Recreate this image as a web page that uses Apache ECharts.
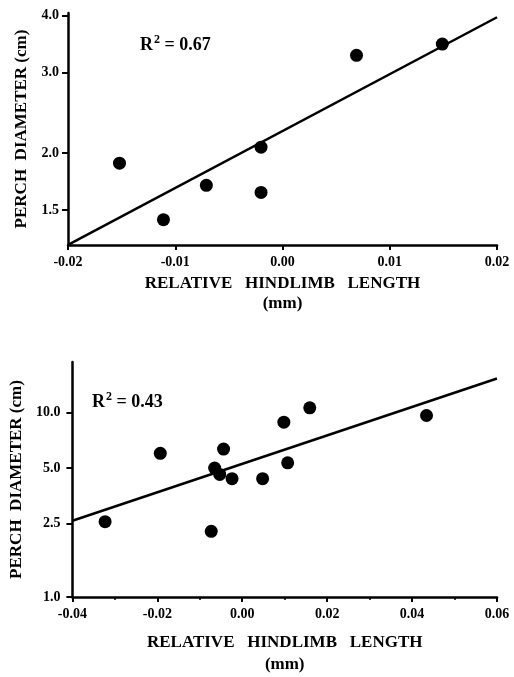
<!DOCTYPE html>
<html>
<head>
<meta charset="utf-8">
<script src="https://cdn.jsdelivr.net/npm/echarts@6/dist/echarts.min.js"></script>
<style>
  html, body { margin: 0; padding: 0; background: #fff; }
  #chart { width: 514px; height: 677px; }
</style>
</head>
<body>
<div id="chart"></div>
<script>
// top panel: perch diameter (cm) vs relative hindlimb length (mm)
const topX = [-0.0152, -0.0111, -0.0071, -0.0020, -0.0020, 0.0069, 0.0149];
const topY = [1.90, 1.43, 1.70, 2.06, 1.64, 3.27, 3.46];
const topLineX = [-0.02, 0.02];
const topLineY = [1.26, 3.96];
const topTicks = [1.5, 2.0, 3.0, 4.0];

// bottom panel
const botX = [-0.0323, -0.0193, -0.0073, -0.0065, -0.0053, -0.0044, -0.0024, 0.0048, 0.0098, 0.0107, 0.0159, 0.0434];
const botY = [2.56, 6.01, 2.27, 5.00, 4.62, 6.34, 4.38, 4.38, 8.87, 5.34, 10.6, 9.64];
const botLineX = [-0.04, 0.06];
const botLineY = [2.59, 15.3];
const botTicks = [1.0, 2.5, 5.0, 10.0];

const FONT = 'Liberation Serif';
const lg = v => Math.log10(v);
const pairs = (xs, ys) => xs.map((x, i) => [x, lg(ys[i])]);

const xTitle = 'RELATIVE   HINDLIMB   LENGTH\n(mm)';
const yTitle = 'PERCH  DIAMETER (cm)';

const axisLine = { onZero: false, lineStyle: { color: '#000', width: 2.5 } };
const labelStyle = { color: '#000', fontFamily: FONT, fontWeight: 'bold', fontSize: 14 };
const titleStyle = { color: '#000', fontFamily: FONT, fontWeight: 'bold', fontSize: 17 };

function xAxis(idx, min, max, interval, gap, lh, minor) {
  return {
    type: 'value', gridIndex: idx, min, max, interval,
    axisLine, splitLine: { show: false },
    axisTick: { show: true, length: 5, lineStyle: { color: '#000', width: 2 } },
    minorTick: { show: minor, splitNumber: 2, length: 3, lineStyle: { color: '#000', width: 1.5 } },
    axisLabel: Object.assign({ margin: 10, formatter: v => v.toFixed(2) }, labelStyle),
    name: xTitle, nameLocation: 'middle', nameGap: gap,
    nameTextStyle: Object.assign({ lineHeight: lh }, titleStyle)
  };
}

function yAxis(idx, min, max, ticks, gap, margin) {
  const vals = ticks.map(lg);
  return {
    type: 'value', gridIndex: idx, min, max,
    axisLine, splitLine: { show: false },
    axisTick: { show: true, length: 6, customValues: vals, lineStyle: { color: '#000', width: 2 } },
    axisLabel: Object.assign({ margin, customValues: vals, formatter: v => Math.pow(10, v).toFixed(1) }, labelStyle),
    name: yTitle, nameLocation: 'middle', nameGap: gap,
    nameTextStyle: titleStyle
  };
}

function rsq(left, top, val) {
  return {
    type: 'text', left, top,
    style: {
      text: '{a|R}{s|2}{a| = ' + val + '}',
      rich: {
        a: { fontFamily: FONT, fontWeight: 'bold', fontSize: 18, fill: '#000', lineHeight: 22 },
        s: { fontFamily: FONT, fontWeight: 'bold', fontSize: 12, fill: '#000', verticalAlign: 'top', lineHeight: 22, padding: [0, 0, 8, 1] }
      }
    }
  };
}

const dot = { color: '#000', opacity: 1 };

const chart = echarts.init(document.getElementById('chart'));
chart.setOption({
  animation: false,
  backgroundColor: '#fff',
  grid: [
    { left: 68, top: 13, width: 429, height: 232 },
    { left: 67, top: 362, width: 430, height: 238 }
  ],
  xAxis: [
    xAxis(0, -0.02, 0.02, 0.01, 29, 20, false),
    xAxis(1, -0.04, 0.06, 0.02, 35, 22, true)
  ],
  yAxis: [
    yAxis(0, 0.10, 0.607, topTicks, 34, 9),
    yAxis(1, 0, 1.274, botTicks, 43, 12)
  ],
  series: [
    { type: 'line', xAxisIndex: 0, yAxisIndex: 0, data: pairs(topLineX, topLineY), showSymbol: false,
      lineStyle: { color: '#000', width: 2.5 } },
    { type: 'scatter', xAxisIndex: 0, yAxisIndex: 0, data: pairs(topX, topY), symbolSize: 13,
      itemStyle: dot },
    { type: 'line', xAxisIndex: 1, yAxisIndex: 1, data: pairs(botLineX, botLineY), showSymbol: false,
      lineStyle: { color: '#000', width: 2.5 } },
    { type: 'scatter', xAxisIndex: 1, yAxisIndex: 1, data: pairs(botX, botY), symbolSize: 13,
      itemStyle: dot }
  ],
  graphic: [
    rsq(140, 34, '0.67'),
    rsq(92, 391, '0.43')
  ]
});
</script>
</body>
</html>
